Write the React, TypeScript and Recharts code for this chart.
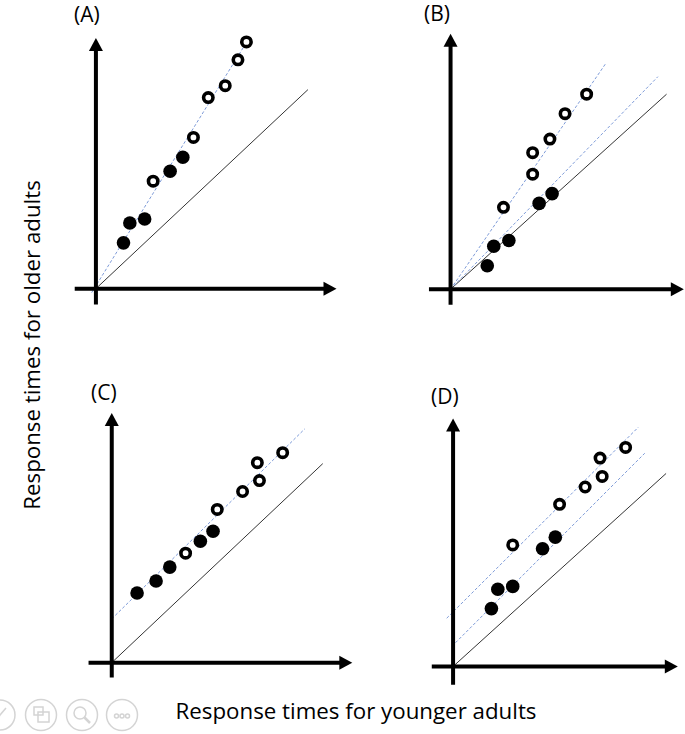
import React from 'react';
import { ScatterChart, Scatter, XAxis, YAxis, ReferenceLine } from 'recharts';

type Pt = { x: number; y: number };
type Seg = [Pt, Pt];

// values in axis units; the solid line is older = younger (0,0)-(10,10)
const aFilled: Pt[] = [
  { x: 1.3, y: 2.3 }, { x: 1.6, y: 3.3 }, { x: 2.3, y: 3.5 }, { x: 3.5, y: 5.9 }, { x: 4.1, y: 6.6 },
];
const aOpen: Pt[] = [
  { x: 2.7, y: 5.4 }, { x: 4.6, y: 7.6 }, { x: 5.3, y: 9.6 }, { x: 6.1, y: 10.2 }, { x: 6.7, y: 11.5 }, { x: 7.1, y: 12.4 },
];
const aFits: Seg[] = [[{ x: -0.2, y: -0.2 }, { x: 7.0, y: 12.2 }]];

const bFilled: Pt[] = [
  { x: 1.7, y: 1.2 }, { x: 2.0, y: 2.2 }, { x: 2.7, y: 2.5 }, { x: 4.1, y: 4.4 }, { x: 4.7, y: 4.9 },
];
const bOpen: Pt[] = [
  { x: 2.45, y: 4.2 }, { x: 3.8, y: 5.9 }, { x: 3.8, y: 7.0 }, { x: 4.6, y: 7.7 }, { x: 5.3, y: 9.0 }, { x: 6.3, y: 10.0 },
];
const bFits: Seg[] = [
  [{ x: 0, y: 0 }, { x: 7.2, y: 11.6 }],
  [{ x: 0, y: 0 }, { x: 9.6, y: 10.9 }],
];

const cFilled: Pt[] = [
  { x: 1.2, y: 3.5 }, { x: 2.1, y: 4.1 }, { x: 2.75, y: 4.8 }, { x: 4.2, y: 6.1 }, { x: 4.8, y: 6.6 },
];
const cOpen: Pt[] = [
  { x: 3.5, y: 5.5 }, { x: 5.0, y: 7.7 }, { x: 6.2, y: 8.6 }, { x: 7.0, y: 9.15 }, { x: 6.9, y: 10.05 }, { x: 8.1, y: 10.55 },
];
const cFits: Seg[] = [[{ x: 0, y: 2.2 }, { x: 9.15, y: 11.75 }]];

const dFilled: Pt[] = [
  { x: 1.8, y: 3.0 }, { x: 2.1, y: 4.0 }, { x: 2.8, y: 4.15 }, { x: 4.2, y: 6.1 }, { x: 4.8, y: 6.7 },
];
const dOpen: Pt[] = [
  { x: 2.8, y: 6.3 }, { x: 5.0, y: 8.4 }, { x: 6.2, y: 9.3 }, { x: 7.0, y: 9.85 }, { x: 6.9, y: 10.8 }, { x: 8.1, y: 11.35 },
];
const dFits: Seg[] = [
  [{ x: -0.3, y: 2.5 }, { x: 8.7, y: 12.4 }],
  [{ x: -0.05, y: 1.05 }, { x: 9.0, y: 11.05 }],
];

const identity: Seg = [{ x: 0, y: 0 }, { x: 10, y: 10 }];

const panelNames = ['(A)', '(B)', '(C)', '(D)'];
const xLabel = 'Response times for younger adults';
const yLabel = 'Response times for older adults';

// layout: pixel origin and pixels per unit for each panel
const panels = [
  { name: panelNames[0], filled: aFilled, open: aOpen, fits: aFits, ox: 96, oy: 289, sx: 21.2, sy: 19.9, xArm: [-1.0, 11.35], yArm: [-0.8, 12.6], lx: 74, ly: 22 },
  { name: panelNames[1], filled: bFilled, open: bOpen, fits: bFits, ox: 451, oy: 289, sx: 21.6, sy: 19.5, xArm: [-1.0, 10.8], yArm: [-0.8, 13.1], lx: 424, ly: 21 },
  { name: panelNames[2], filled: cFilled, open: cOpen, fits: cFits, ox: 112, oy: 663, sx: 21.1, sy: 19.9, xArm: [-1.1, 11.4], yArm: [-0.75, 12.55], lx: 91, ly: 400 },
  { name: panelNames[3], filled: dFilled, open: dOpen, fits: dFits, ox: 453, oy: 666, sx: 21.3, sy: 19.3, xArm: [-1.0, 10.55], yArm: [-0.95, 12.85], lx: 431, ly: 404 },
];

const FONT = '"Open Sans", "Liberation Sans", sans-serif';

const ArrowLine = (props: any) => {
  const { x1, y1, x2, y2 } = props;
  const dx = x2 - x1;
  const dy = y2 - y1;
  const len = Math.hypot(dx, dy) || 1;
  const ux = dx / len;
  const uy = dy / len;
  const head = 13;
  const half = 7;
  const bx = x2 - ux * head;
  const by = y2 - uy * head;
  return (
    <g>
      <line x1={x1} y1={y1} x2={bx + ux} y2={by + uy} stroke="#000" strokeWidth={4} />
      <polygon
        points={`${x2},${y2} ${bx - uy * half},${by + ux * half} ${bx + uy * half},${by - ux * half}`}
        fill="#000"
      />
    </g>
  );
};

const FilledDot = (props: any) => <circle cx={props.cx} cy={props.cy} r={6.8} fill="#000" />;
const RingDot = (props: any) => (
  <circle cx={props.cx} cy={props.cy} r={4.7} fill="#fff" stroke="#000" strokeWidth={3.6} />
);

function Panel({ p }: { p: (typeof panels)[number] }) {
  const xMin = -1.6;
  const xMax = 12.2;
  const yMin = -1.4;
  const yMax = 13.6;
  const left = p.ox + xMin * p.sx;
  const top = p.oy - yMax * p.sy;
  const width = (xMax - xMin) * p.sx;
  const height = (yMax - yMin) * p.sy;
  return (
    <div style={{ position: 'absolute', left, top, width, height }}>
      <ScatterChart width={width} height={height} margin={{ top: 0, right: 0, bottom: 0, left: 0 }}>
        <XAxis type="number" dataKey="x" domain={[xMin, xMax]} hide allowDataOverflow />
        <YAxis type="number" dataKey="y" domain={[yMin, yMax]} hide allowDataOverflow />
        <ReferenceLine segment={identity} stroke="#333" strokeWidth={1} ifOverflow="visible" />
        {p.fits.map((s, i) => (
          <ReferenceLine
            key={i}
            segment={s}
            stroke="#7d9bd8"
            strokeWidth={1}
            strokeDasharray="3 2"
            ifOverflow="visible"
          />
        ))}
        <ReferenceLine
          segment={[{ x: p.xArm[0], y: 0 }, { x: p.xArm[1], y: 0 }]}
          shape={ArrowLine}
          ifOverflow="visible"
        />
        <ReferenceLine
          segment={[{ x: 0, y: p.yArm[0] }, { x: 0, y: p.yArm[1] }]}
          shape={ArrowLine}
          ifOverflow="visible"
        />
        <Scatter data={p.filled} shape={FilledDot} isAnimationActive={false} />
        <Scatter data={p.open} shape={RingDot} isAnimationActive={false} />
      </ScatterChart>
    </div>
  );
}

export default function App() {
  return (
    <div
      style={{
        position: 'absolute',
        left: 0,
        top: 0,
        width: 685,
        height: 734,
        overflow: 'hidden',
        background: '#fff',
      }}
    >
      {panels.map(p => (
        <Panel key={p.name} p={p} />
      ))}
      <svg width={685} height={734} style={{ position: 'absolute', left: 0, top: 0, pointerEvents: 'none' }}>
        {panels.map(p => (
          <text key={p.name} x={p.lx} y={p.ly} fontFamily={FONT} fontSize={21} fill="#000">
            {p.name}
          </text>
        ))}
        <text
          x={0}
          y={0}
          transform="translate(40,345) rotate(-90)"
          textAnchor="middle"
          fontFamily={FONT}
          fontSize={22.3}
          fill="#000"
        >
          {yLabel}
        </text>
        <text x={356} y={719} textAnchor="middle" fontFamily={FONT} fontSize={22.3} fill="#000">
          {xLabel}
        </text>
        {/* faint viewer toolbar in the lower left corner */}
        <g fill="none" stroke="#d4d4d4" strokeWidth={1.5}>
          <circle cx={0} cy={715} r={15} />
          <line x1={-6} y1={722} x2={6} y2={708} />
          <circle cx={41} cy={715} r={15.5} />
          <rect x={34} y={707} width={9} height={8} />
          <rect x={38} y={712} width={11} height={10} />
          <circle cx={82} cy={715} r={15.5} />
          <circle cx={80} cy={713} r={6} />
          <line x1={84.5} y1={717.5} x2={90} y2={723} strokeWidth={2.5} />
          <circle cx={122} cy={715} r={15.5} />
          <circle cx={116.5} cy={716} r={2} />
          <circle cx={122} cy={716} r={2} />
          <circle cx={127.5} cy={716} r={2} />
        </g>
      </svg>
    </div>
  );
}
